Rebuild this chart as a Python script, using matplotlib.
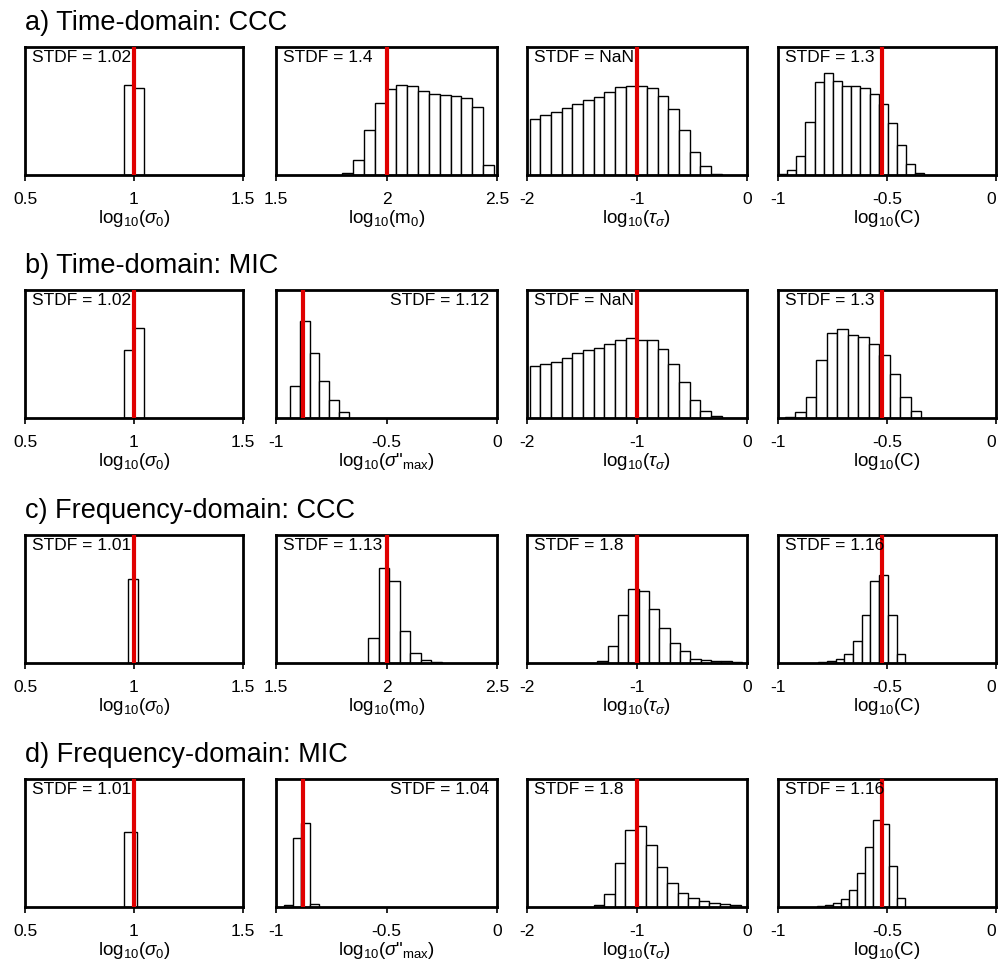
import numpy as np
import matplotlib
matplotlib.use("Agg")
import matplotlib.pyplot as plt

plt.rcParams['font.family'] = 'Liberation Sans'
plt.rcParams['mathtext.fontset'] = 'custom'
plt.rcParams['mathtext.rm'] = 'Liberation Sans'
plt.rcParams['mathtext.it'] = 'Liberation Sans:italic'
plt.rcParams['axes.unicode_minus'] = False

# ---- Data (heights as fraction of panel height) ---- #
row_titles = ["a) Time-domain: CCC", "b) Time-domain: MIC",
              "c) Frequency-domain: CCC", "d) Frequency-domain: MIC"]

stdf_labels = [["1.02", "1.4", "NaN", "1.3"],
               ["1.02", "1.12", "NaN", "1.3"],
               ["1.01", "1.13", "1.8", "1.16"],
               ["1.01", "1.04", "1.8", "1.16"]]

# bin start and bin width for each panel (row by row)
bin_start = [[0.955, 1.80, -1.975, -1.0],
             [0.955, -0.937, -1.975, -0.968],
             [0.972, 1.917, -1.362, -0.816],
             [0.955, -0.965, -1.395, -0.819]]
bin_width = [[0.045, 0.049, 0.097, 0.042],
             [0.045, 0.0443, 0.097, 0.048],
             [0.046, 0.0476, 0.094, 0.040],
             [0.061, 0.040, 0.0957, 0.0364]]

h_a1 = [0.70, 0.68]
h_a2 = [0.018, 0.12, 0.35, 0.56, 0.675, 0.706, 0.698, 0.656, 0.633, 0.627,
        0.614, 0.601, 0.53, 0.079]
h_a3 = [0.438, 0.47, 0.49, 0.525, 0.551, 0.588, 0.612, 0.646, 0.688, 0.693,
        0.698, 0.68, 0.619, 0.512, 0.354, 0.181, 0.068, 0.01]
h_a4 = [0.01, 0.037, 0.147, 0.412, 0.727, 0.798, 0.732, 0.698, 0.693, 0.682,
        0.635, 0.556, 0.41, 0.234, 0.084, 0.018]

h_b1 = [0.53, 0.70]
h_b2 = [0.249, 0.756, 0.508, 0.287, 0.138, 0.044]
h_b3 = [0.403, 0.418, 0.436, 0.472, 0.505, 0.531, 0.549, 0.582, 0.608, 0.626,
        0.613, 0.61, 0.536, 0.423, 0.279, 0.144, 0.054, 0.018]
h_b4 = [0.01, 0.044, 0.167, 0.454, 0.667, 0.692, 0.646, 0.631, 0.582, 0.492,
        0.341, 0.167, 0.054]

h_c1 = [0.66]
h_c2 = [0.193, 0.74, 0.64, 0.253, 0.08, 0.02, 0.008]
h_c3 = [0.018, 0.134, 0.376, 0.582, 0.564, 0.425, 0.27, 0.16, 0.093, 0.034,
        0.026, 0.015, 0.013, 0.008]
h_c4 = [0.005, 0.013, 0.031, 0.07, 0.17, 0.374, 0.64, 0.686, 0.376, 0.067]

h_d1 = [0.587]
h_d2 = [0.013, 0.537, 0.656, 0.026]
h_d3 = [0.016, 0.1, 0.344, 0.602, 0.636, 0.481, 0.31, 0.189, 0.111, 0.067,
        0.044, 0.031, 0.023, 0.018]
h_d4 = [0.01, 0.018, 0.034, 0.065, 0.13, 0.264, 0.47, 0.677, 0.649, 0.323, 0.07]

heights = [[h_a1, h_a2, h_a3, h_a4],
           [h_b1, h_b2, h_b3, h_b4],
           [h_c1, h_c2, h_c3, h_c4],
           [h_d1, h_d2, h_d3, h_d4]]

# true values (red lines)
true_sig0 = 1.0
true_m0 = 2.0
true_sigmax = -0.879
true_tau = -1.0
true_c = -0.523

# x-axis setup for the parameters
lab_sig0 = r'log$_{10}$($\sigma_0$)'
lab_m0 = r'log$_{10}$(m$_0$)'
lab_sigmax = r'log$_{10}$($\sigma$"$_{\rm max}$)'
lab_tau = r'log$_{10}$($\tau_\sigma$)'
lab_c = r'log$_{10}$(C)'

param_sig0 = (lab_sig0, (0.5, 1.5), [0.5, 1, 1.5], ["0.5", "1", "1.5"], true_sig0)
param_m0 = (lab_m0, (1.5, 2.5), [1.5, 2, 2.5], ["1.5", "2", "2.5"], true_m0)
param_sigmax = (lab_sigmax, (-1, 0), [-1, -0.5, 0], ["-1", "-0.5", "0"], true_sigmax)
param_tau = (lab_tau, (-2, 0), [-2, -1, 0], ["-2", "-1", "0"], true_tau)
param_c = (lab_c, (-1, 0), [-1, -0.5, 0], ["-1", "-0.5", "0"], true_c)

row_params = [[param_sig0, param_m0, param_tau, param_c],
              [param_sig0, param_sigmax, param_tau, param_c],
              [param_sig0, param_m0, param_tau, param_c],
              [param_sig0, param_sigmax, param_tau, param_c]]

# panels where the STDF text sits on the right
right_text = [(1, 1), (3, 1)]

# ---- Layout (pixels) ---- #
W, H = 998, 967
col_left = [25, 276, 527, 778]
col_w = [218, 221, 220, 218]
row_top = [47, 290, 535, 779]
row_h = 128

fig = plt.figure(figsize=(W / 100, H / 100), dpi=100)

for r in range(4):
    fig.text(25 / W, 1 - (row_top[r] - 17) / H, row_titles[r],
             fontsize=19.5, ha='left', va='baseline')
    for c in range(4):
        ax = fig.add_axes([col_left[c] / W, 1 - (row_top[r] + row_h) / H,
                           col_w[c] / W, row_h / H])
        label, xlim, ticks, ticklabels, true_val = row_params[r][c]
        h = heights[r][c]
        lefts = bin_start[r][c] + bin_width[r][c] * np.arange(len(h))
        ax.bar(lefts, h, width=bin_width[r][c], align='edge',
               facecolor='white', edgecolor='black', linewidth=1.0, zorder=2)
        ax.axvline(true_val, color='#e00000', linewidth=3, zorder=3)
        ax.set_xlim(*xlim)
        ax.set_ylim(0, 1)
        ax.set_yticks([])
        ax.set_xticks(ticks)
        ax.set_xticklabels(ticklabels)
        ax.tick_params(axis='x', direction='out', length=4, width=1.2,
                       pad=8, labelsize=12.5)
        ax.set_xlabel(label, fontsize=13.5, labelpad=1)
        for sp in ax.spines.values():
            sp.set_linewidth(2)
        if c == 3:
            # last "0" sits inside the figure edge
            ax.get_xticklabels()[-1].set_horizontalalignment('right')
        if (r, c) in right_text:
            ax.text(0.965, 0.975, "STDF = " + stdf_labels[r][c], transform=ax.transAxes,
                    ha='right', va='top', fontsize=12.5, zorder=4)
        else:
            ax.text(0.032, 0.975, "STDF = " + stdf_labels[r][c], transform=ax.transAxes,
                    ha='left', va='top', fontsize=12.5, zorder=4)

fig.savefig("out.png", dpi=100)
